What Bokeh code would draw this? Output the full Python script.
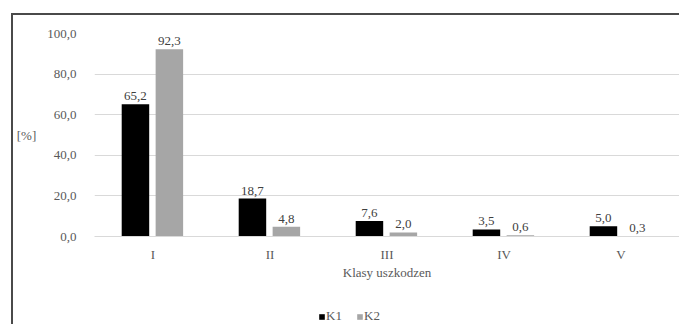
from bokeh.plotting import figure
from bokeh.layouts import column
from bokeh.models import ColumnDataSource, Legend, LegendItem, FixedTicker
from bokeh.transform import dodge
from bokeh.core.properties import value
from bokeh.embed import file_html
from bokeh.resources import INLINE

categories = ["I", "II", "III", "IV", "V"]
k1 = [65.2, 18.7, 7.6, 3.5, 5.0]
k2 = [92.3, 4.8, 2.0, 0.6, 0.3]
series_names = ["K1", "K2"]
y_ticks = [0, 20, 40, 60, 80, 100]

FONT = "Liberation Serif"
TXT = "#595959"
FS = "13px"
C1, C2 = "black", "#a6a6a6"

def fmt(v):
    return f"{v:.1f}".replace(".", ",")

src = ColumnDataSource(dict(
    cat=categories, k1=k1, k2=k2,
    k1_lab=[fmt(v) for v in k1], k2_lab=[fmt(v) for v in k2],
))

p = figure(x_range=categories, y_range=(0, 100), width=666, height=285,
           output_backend="svg", toolbar_location=None,
           min_border_left=81, min_border_right=0, min_border_top=18, min_border_bottom=64)
p.outline_line_color = None
p.background_fill_color = "white"
p.border_fill_color = "white"

r1 = p.vbar(x=dodge("cat", -0.15, range=p.x_range), top="k1", width=0.235, source=src,
            fill_color=C1, line_color=None)
r2 = p.vbar(x=dodge("cat", 0.14, range=p.x_range), top="k2", width=0.235, source=src,
            fill_color=C2, line_color=None)

p.text(x=dodge("cat", -0.15, range=p.x_range), y="k1", text="k1_lab", source=src,
       text_font=value(FONT), text_font_size=FS, text_color="#404040",
       text_align="center", text_baseline="bottom", y_offset=-4)
p.text(x=dodge("cat", 0.14, range=p.x_range), y="k2", text="k2_lab", source=src,
       text_font=value(FONT), text_font_size=FS, text_color="#404040",
       text_align="center", text_baseline="bottom", y_offset=-4)

p.xgrid.grid_line_color = None
p.ygrid.grid_line_color = "#d9d9d9"
p.ygrid.grid_line_width = 1

p.yaxis.ticker = FixedTicker(ticks=y_ticks)
p.yaxis.major_label_overrides = {t: fmt(t) for t in y_ticks}
p.yaxis.axis_line_color = None
p.yaxis.major_tick_line_color = None
p.yaxis.minor_tick_line_color = None
p.yaxis.major_label_text_font = FONT
p.yaxis.major_label_text_font_size = FS
p.yaxis.major_label_text_color = TXT
p.yaxis.major_label_standoff = 12
p.yaxis.axis_label = "[%]"
p.yaxis.axis_label_orientation = "horizontal"
p.yaxis.axis_label_text_font = FONT
p.yaxis.axis_label_text_font_style = "normal"
p.yaxis.axis_label_text_font_size = FS
p.yaxis.axis_label_text_color = TXT
p.yaxis.axis_label_standoff = 8

p.xaxis.axis_line_color = "#d9d9d9"
p.xaxis.major_tick_line_color = None
p.xaxis.minor_tick_line_color = None
p.xaxis.major_label_text_font = FONT
p.xaxis.major_label_text_font_size = FS
p.xaxis.major_label_text_color = TXT
p.xaxis.major_label_standoff = 4
p.xaxis.axis_label = "Klasy uszkodzen"
p.xaxis.axis_label_text_font = FONT
p.xaxis.axis_label_text_font_style = "normal"
p.xaxis.axis_label_text_font_size = FS
p.xaxis.axis_label_text_color = TXT
p.xaxis.axis_label_standoff = 0

# legend strip below the chart (bars kept out of its visible range)
q = figure(x_range=categories, y_range=(1000, 1001), width=666, height=24,
           output_backend="svg", toolbar_location=None,
           min_border_left=0, min_border_right=0, min_border_top=0, min_border_bottom=0)
q.outline_line_color = None
q.axis.visible = False
q.grid.visible = False
q.background_fill_color = "white"
q.border_fill_color = "white"
q1 = q.vbar(x="cat", top="k1", width=0.2, source=src, fill_color=C1, line_color=None)
q2 = q.vbar(x="cat", top="k2", width=0.2, source=src, fill_color=C2, line_color=None)

legend = Legend(items=[LegendItem(label=series_names[0], renderers=[q1]),
                       LegendItem(label=series_names[1], renderers=[q2])],
                orientation="horizontal", location=(224, 0),
                label_text_font=FONT, label_text_font_size=FS, label_text_color=TXT,
                glyph_width=7, glyph_height=7, label_standoff=1, spacing=10,
                label_height=12, border_line_color=None, background_fill_alpha=0,
                padding=0, margin=0)
q.add_layout(legend, "center")

layout = column(p, q, spacing=0, margin=(13, 0, 0, 11))
layout.styles = {"border-left": "2px solid #4a4a4a", "border-top": "2px solid #4a4a4a"}

open("out.html", "w").write(file_html(layout, INLINE))
